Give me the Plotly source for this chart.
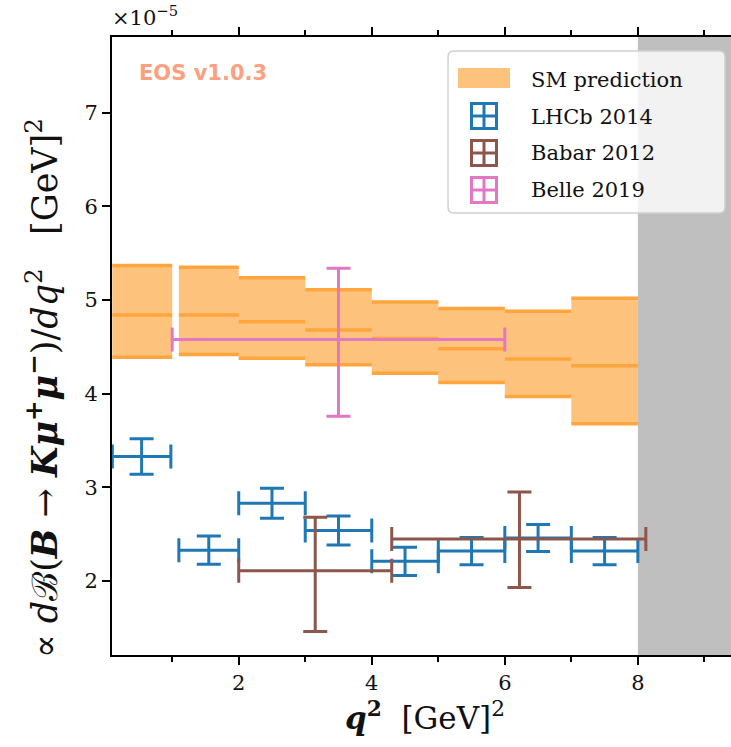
import plotly.graph_objects as go

# ---------------- data (units of 1e-5) ----------------
sm_lo = [0.1, 1.1, 2.0, 3.0, 4.0, 5.0, 6.0, 7.0]
sm_hi = [1.0, 2.0, 3.0, 4.0, 5.0, 6.0, 7.0, 8.0]
sm_top = [5.37, 5.35, 5.24, 5.11, 4.98, 4.91, 4.88, 5.02]
sm_mid = [4.84, 4.84, 4.77, 4.68, 4.59, 4.48, 4.37, 4.30]
sm_bot = [4.39, 4.42, 4.38, 4.31, 4.22, 4.12, 3.97, 3.68]

lhcb_lo = [0.1, 1.1, 2.0, 3.0, 4.0, 5.0, 6.0, 7.0]
lhcb_hi = [0.98, 2.0, 3.0, 4.0, 5.0, 6.0, 7.0, 8.0]
lhcb_y = [3.33, 2.33, 2.83, 2.54, 2.21, 2.32, 2.46, 2.32]
lhcb_err = [0.19, 0.15, 0.16, 0.155, 0.15, 0.145, 0.145, 0.145]

babar_x = [3.15, 6.22]
babar_lo = [2.0, 4.3]
babar_hi = [4.3, 8.12]
babar_y = [2.11, 2.45]
babar_up = [0.57, 0.50]
babar_dn = [0.65, 0.52]

belle_x = [3.5]
belle_lo = [1.0]
belle_hi = [6.0]
belle_y = [4.58]
belle_up = [0.76]
belle_dn = [0.82]

x_tick_major = [2, 4, 6, 8]
y_ticks = [2, 3, 4, 5, 6, 7]

# ---------------- colours / styles ----------------
C_FILL = "#fdc27b"
C_LINE = "#ffa53d"
C_BLUE = "#1f77b4"
C_BROWN = "#8c564b"
C_PINK = "#e377c2"
SERIF = "DejaVu Serif"

W, H = 731, 747
L, R, T, B = 112, 731, 37, 655


def px(xp):
    return (xp - L) / (R - L)


def py(yp):
    return (B - yp) / (B - T)


fig = go.Figure()

# SM prediction boxes (fill)
fx, fy = [], []
for lo, hi, tp, bt in zip(sm_lo, sm_hi, sm_top, sm_bot):
    fx += [lo, hi, hi, lo, lo, None]
    fy += [bt, bt, tp, tp, bt, None]
fig.add_trace(go.Scatter(x=fx, y=fy, mode="lines", fill="toself",
                         fillcolor=C_FILL, line=dict(width=0, color=C_FILL),
                         hoverinfo="skip", showlegend=False))
# SM lines
lx, ly = [], []
for lo, hi, tp, md, bt in zip(sm_lo, sm_hi, sm_top, sm_mid, sm_bot):
    for v in (tp, md, bt):
        lx += [lo, hi, None]
        ly += [v, v, None]
fig.add_trace(go.Scatter(x=lx, y=ly, mode="lines",
                         line=dict(width=3.5, color=C_LINE),
                         hoverinfo="skip", showlegend=False))


def err_trace(xc, lo, hi, y, up, dn, color):
    return go.Scatter(
        x=xc, y=y, mode="markers",
        marker=dict(size=1, color=color, opacity=0),
        error_x=dict(type="data", symmetric=False,
                     array=[h - c for h, c in zip(hi, xc)],
                     arrayminus=[c - l for l, c in zip(lo, xc)],
                     color=color, thickness=3, width=12),
        error_y=dict(type="data", symmetric=False, array=up, arrayminus=dn,
                     color=color, thickness=3, width=12),
        hoverinfo="skip", showlegend=False)


lhcb_x = [(a + b) / 2 for a, b in zip(lhcb_lo, lhcb_hi)]
fig.add_trace(err_trace(lhcb_x, lhcb_lo, lhcb_hi, lhcb_y, lhcb_err, lhcb_err, C_BLUE))
fig.add_trace(err_trace(babar_x, babar_lo, babar_hi, babar_y, babar_up, babar_dn, C_BROWN))
fig.add_trace(err_trace(belle_x, belle_lo, belle_hi, belle_y, belle_up, belle_dn, C_PINK))

shapes = []
# grey excluded region
shapes.append(dict(type="rect", xref="x", yref="paper", x0=8, x1=9.4, y0=0, y1=1,
                   fillcolor="#bfbfbf", line=dict(width=0), layer="below"))

# legend frame (rounded)
x0, x1, y0, y1 = px(448), px(725), py(213), py(51)
rx, ry = 6 / (R - L), 6 / (B - T)
path = (f"M {x0+rx},{y0} L {x1-rx},{y0} Q {x1},{y0} {x1},{y0+ry} "
        f"L {x1},{y1-ry} Q {x1},{y1} {x1-rx},{y1} L {x0+rx},{y1} "
        f"Q {x0},{y1} {x0},{y1-ry} L {x0},{y0+ry} Q {x0},{y0} {x0+rx},{y0} Z")
shapes.append(dict(type="path", xref="paper", yref="paper", path=path,
                   fillcolor="rgba(255,255,255,0.8)",
                   line=dict(color="#d0d0d0", width=1.5), layer="above"))
# SM patch
shapes.append(dict(type="rect", xref="paper", yref="paper",
                   x0=px(458), x1=px(510), y0=py(88), y1=py(68),
                   fillcolor=C_FILL, line=dict(width=0), layer="above"))
# square-cross symbols
for cy, col in ((116, C_BLUE), (153, C_BROWN), (190, C_PINK)):
    cx, h = 484, 12.5
    shapes.append(dict(type="rect", xref="paper", yref="paper",
                       x0=px(cx - h), x1=px(cx + h), y0=py(cy + h), y1=py(cy - h),
                       line=dict(color=col, width=3), layer="above"))
    shapes.append(dict(type="line", xref="paper", yref="paper",
                       x0=px(cx - h), x1=px(cx + h), y0=py(cy), y1=py(cy),
                       line=dict(color=col, width=3), layer="above"))
    shapes.append(dict(type="line", xref="paper", yref="paper",
                       x0=px(cx), x1=px(cx), y0=py(cy + h), y1=py(cy - h),
                       line=dict(color=col, width=3), layer="above"))

annotations = []
for txt, cy in (("SM prediction", 80), ("LHCb 2014", 117), ("Babar 2012", 153), ("Belle 2019", 190)):
    annotations.append(dict(text=txt, xref="paper", yref="paper", x=px(529), y=py(cy),
                            xanchor="left", yanchor="middle", showarrow=False,
                            font=dict(family=SERIF, size=21, color="#111")))
annotations.append(dict(text="<b>EOS v1.0.3</b>", xref="paper", yref="paper",
                        x=px(137), y=py(73), xanchor="left", yanchor="middle",
                        showarrow=False,
                        font=dict(family="DejaVu Sans", size=21, color="#fda07f")))
annotations.append(dict(text="×10<sup>−5</sup>", xref="paper", yref="paper",
                        x=px(110), y=py(16), xanchor="left", yanchor="middle",
                        showarrow=False, font=dict(family=SERIF, size=21, color="#111")))
annotations.append(dict(
    text="∝ <i>d</i>ℬ(<b><i>B</i></b> → <b><i>Kμ</i></b><sup><b>+</b></sup><b><i>μ</i></b><sup><b>−</b></sup>)/<i>dq</i><sup>2</sup>   [GeV]<sup>2</sup>",
    xref="paper", yref="paper", x=px(42), y=py(388), xanchor="center", yanchor="middle",
    textangle=-90, showarrow=False, font=dict(family=SERIF, size=35, color="#111")))
annotations.append(dict(
    text="<b><i>q</i></b><sup><b>2</b></sup>  [GeV]<sup>2</sup>",
    xref="paper", yref="paper", x=px(425), y=py(716), xanchor="center", yanchor="middle",
    showarrow=False, font=dict(family=SERIF, size=31, color="#111")))

fig.update_layout(
    width=W, height=H,
    margin=dict(l=L, r=W - R, t=T, b=H - B),
    plot_bgcolor="white", paper_bgcolor="white",
    showlegend=False,
    shapes=shapes, annotations=annotations,
    xaxis=dict(range=[0.095, 9.4], tickvals=x_tick_major, ticks="outside",
               ticklen=8, tickwidth=2, tickcolor="black",
               showline=True, linewidth=2, linecolor="black", mirror="ticks",
               showgrid=False, zeroline=False,
               minor=dict(dtick=1, tick0=0, ticks="outside", ticklen=5,
                          tickwidth=1.5, tickcolor="black", showgrid=False),
               tickfont=dict(family=SERIF, size=21, color="#111")),
    yaxis=dict(range=[1.21, 7.81], tickvals=y_ticks, ticks="outside",
               ticklen=8, tickwidth=2, tickcolor="black",
               showline=True, linewidth=2, linecolor="black", mirror=False,
               showgrid=False, zeroline=False,
               tickfont=dict(family=SERIF, size=21, color="#111")),
)

fig.write_html("out.html", config={"displayModeBar": False},
               post_script="document.body.style.margin='0';document.body.style.overflow='hidden';")
